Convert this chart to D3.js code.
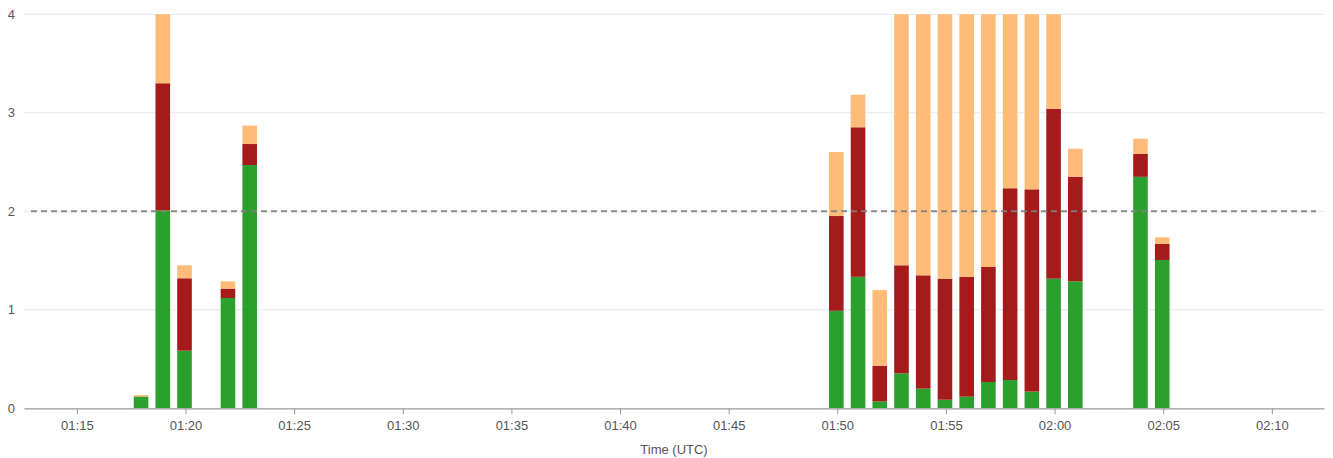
<!DOCTYPE html>
<meta charset="utf-8">
<style>
body { margin: 0; background: #fff; }
text { font-family: "Helvetica Neue", Helvetica, Arial, "Liberation Sans", sans-serif; }
</style>
<svg id="svg" width="1333" height="458"></svg>
<script src="https://d3js.org/d3.v7.min.js"></script>
<script>
// minute buckets (UTC) that have data
var minutes = ["01:18", "01:19", "01:20", "01:22", "01:23",
               "01:50", "01:51", "01:52", "01:53", "01:54", "01:55", "01:56",
               "01:57", "01:58", "01:59", "02:00", "02:01", "02:04", "02:05"]

// stacked segments, bottom to top
var green  = [0.12, 2.01, 0.585, 1.12, 2.47,
              0.99, 1.335, 0.07, 0.355, 0.2, 0.087, 0.118,
              0.267, 0.287, 0.17, 1.316, 1.29, 2.35, 1.506]
var red    = [0, 1.29, 0.735, 0.095, 0.213,
              0.962, 1.518, 0.363, 1.097, 1.15, 1.229, 1.218,
              1.168, 1.947, 2.053, 1.723, 1.061, 0.232, 0.162]
var orange = [0.015, 1.2, 0.132, 0.074, 0.187,
              0.65, 0.331, 0.767, 3.0, 3.0, 3.0, 3.0,
              3.0, 3.0, 3.0, 2.0, 0.285, 0.155, 0.068]

var yTicks = [0, 1, 2, 3, 4]
var threshold = 2

var svg = d3.select("svg"),
    width = +svg.attr("width"),
    height = +svg.attr("height");

var margin = {top: 14.3, right: 9, bottom: 49.7, left: 24}

function utc(hm, s) {
    var p = hm.split(":")
    return new Date(Date.UTC(2024, 0, 1, +p[0], +p[1], s || 0))
}

var x = d3.scaleUtc()
    .domain([utc("01:12", 34), utc("02:12", 24)])
    .range([margin.left, width - margin.right])

var y = d3.scaleLinear()
    .domain([0, 4])
    .range([height - margin.bottom, margin.top])

var keys = ["green", "red", "orange"]
var color = {green: "#2ca02c", red: "#a51a1a", orange: "#ffbb78"}

var rows = minutes.map(function(m, i) {
    return {time: utc(m), green: green[i], red: red[i], orange: orange[i]}
})
var series = d3.stack().keys(keys)(rows)

// grid
svg.append("g")
    .selectAll("line")
    .data(yTicks.filter(function(d) { return d > 0; }))
    .enter().append("line")
    .attr("x1", margin.left)
    .attr("x2", width - margin.right)
    .attr("y1", function(d) { return y(d); })
    .attr("y2", function(d) { return y(d); })
    .attr("stroke", "#e3e9f1")
    .attr("stroke-width", 1)

// y labels
svg.append("g")
    .selectAll("text")
    .data(yTicks)
    .enter().append("text")
    .attr("x", 15)
    .attr("y", function(d) { return y(d); })
    .attr("dy", "0.35em")
    .attr("text-anchor", "end")
    .attr("fill", "#555")
    .attr("font-size", 13)
    .text(function(d) { return d; })

svg.append("clipPath")
    .attr("id", "plotclip")
    .append("rect")
    .attr("x", margin.left)
    .attr("y", margin.top)
    .attr("width", width - margin.left - margin.right)
    .attr("height", height - margin.top - margin.bottom)

var bw = 14.6

svg.append("g")
    .attr("clip-path", "url(#plotclip)")
    .selectAll("g")
    .data(series)
    .enter().append("g")
    .attr("fill", function(d) { return color[d.key]; })
    .selectAll("rect")
    .data(function(d) { return d; })
    .enter().append("rect")
    .attr("x", function(d) { return x(d.data.time) - bw / 2 - 1; })
    .attr("width", bw)
    .attr("y", function(d) { return y(d[1]); })
    .attr("height", function(d) { return Math.max(0, y(d[0]) - y(d[1])); })

// x axis
var xAxis = svg.append("g")
    .attr("transform", "translate(0," + y(0) + ")")
    .call(d3.axisBottom(x)
        .ticks(d3.utcMinute.every(5))
        .tickFormat(d3.utcFormat("%H:%M"))
        .tickSize(6)
        .tickSizeOuter(0)
        .tickPadding(6))

xAxis.select(".domain").attr("stroke", "#999").attr("stroke-width", 1.2)
xAxis.selectAll(".tick line").attr("stroke", "#999")
xAxis.selectAll(".tick text")
    .attr("fill", "#555")
    .attr("font-size", 13)
    .style("font-family", "\"Helvetica Neue\", Helvetica, Arial, \"Liberation Sans\", sans-serif")

svg.append("text")
    .attr("x", (margin.left + width - margin.right) / 2)
    .attr("y", 454)
    .attr("text-anchor", "middle")
    .attr("fill", "#555")
    .attr("font-size", 13)
    .text("Time (UTC)")

// threshold
svg.append("line")
    .attr("x1", 31)
    .attr("x2", width - 17)
    .attr("y1", y(threshold))
    .attr("y2", y(threshold))
    .attr("stroke", "#808080")
    .attr("stroke-width", 2)
    .attr("stroke-dasharray", "6,4")
    .attr("opacity", 0.9)
</script>
